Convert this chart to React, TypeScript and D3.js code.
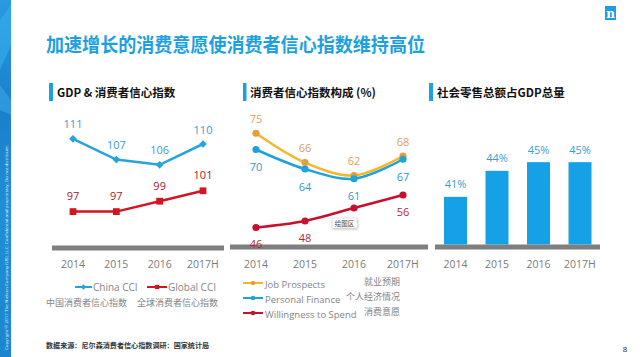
import React from "react";
import * as d3 from "d3";

const years = ["2014", "2015", "2016", "2017H"];
const chinaCCI = [111, 107, 106, 110];
const globalCCI = [97, 97, 99, 101];
const jobProspects = [75, 66, 62, 68];
const personalFinance = [70, 64, 61, 67];
const willingness = [46, 48, 52, 56];
const retailShare = [41, 44, 45, 45];

const title = "加速增长的消费意愿使消费者信心指数维持高位";
const headers = ["GDP & 消费者信心指数", "消费者信心指数构成 (%)", "社会零售总额占GDP总量"];
const legend1 = ["China CCI", "Global CCI"];
const legend1cn = ["中国消费者信心指数", "全球消费者信心指数"];
const legend2 = ["Job Prospects", "Personal Finance", "Willingness to Spend"];
const legend2cn = ["就业预期", "个人经济情况", "消费意愿"];
const source = "数据来源：尼尔森消费者信心指数调研：国家统计局";
const copyright = "Copyright © 2017 The Nielsen Company (US), LLC. Confidential and proprietary. Do not distribute.";

const CJK = "'Noto Sans CJK SC', sans-serif";
const LAT = "'Open Sans', 'Noto Sans', sans-serif";

const C = {
  china: "#27a3de", chinaLbl: "#3b9dc9",
  global: "#d3151f", globalLbl: "#a8182c",
  job: "#f3b82a", jobMk: "#e2a03c", jobLbl: "#d7a15c",
  pf: "#1ea2dd", pfLbl: "#2f9cc5",
  will: "#c8102e", willLbl: "#b1263f",
  bar: "#16a0e5", barLbl: "#3a9dd0",
  axis: "#7f7f7f", tick: "#7a7a7a", legend: "#858585",
};

export default function App() {
  // Panel 1
  const x1 = d3.scalePoint<string>().domain(years).range([73, 203]);
  const y1 = d3.scaleLinear().domain([90, 115]).range([248, 118]);
  const line1 = d3.line<number>().x((_, i) => x1(years[i])!).y((d) => y1(d));
  const diamond = d3.symbol(d3.symbolSquare, 30)();
  const square = d3.symbol(d3.symbolSquare, 46)();

  // Panel 2
  const x2 = d3.scalePoint<string>().domain(years).range([256, 403]);
  const y2 = d3.scaleLinear().domain([40, 80]).range([247, 117]);
  const line2 = d3
    .line<number>()
    .x((_, i) => x2(years[i])!)
    .y((d) => y2(d))
    .curve(d3.curveCatmullRom.alpha(0.5));

  // Panel 3
  const x3 = d3.scaleBand<string>().domain(years).range([435, 600.5]).paddingInner(0.446).paddingOuter(0.217);
  const y3 = d3.scaleLinear().domain([35.5, 50.5]).range([244.5, 114.5]);

  const tickLabels = (sx: (v: string) => number) =>
    years.map((yr) => (
      <text key={yr} x={sx(yr)} y={264} textAnchor="middle" dominantBaseline="central" fontFamily={LAT} fontSize={10.5} fill={C.tick}>
        {yr}
      </text>
    ));

  const series2 = [
    { data: jobProspects, line: C.job, mk: C.jobMk, lbl: C.jobLbl, dy: -15, hide: -1 },
    { data: personalFinance, line: C.pf, mk: C.pf, lbl: C.pfLbl, dy: 17, hide: -1 },
    { data: willingness, line: C.will, mk: C.will, lbl: C.willLbl, dy: 16, hide: 2 },
  ];

  return (
    <svg width={640} height={357} style={{ position: "absolute", left: 0, top: 0, background: "#fff" }}>
      <defs>
        <linearGradient id="strip" x1="0" y1="0" x2="0" y2="1">
          <stop offset="0" stopColor="#2a9be0" />
          <stop offset="0.3" stopColor="#1b7fcc" />
          <stop offset="0.6" stopColor="#1f8fd6" />
          <stop offset="1" stopColor="#1b86cf" />
        </linearGradient>
        <filter id="sh" x="-20%" y="-20%" width="140%" height="160%">
          <feDropShadow dx="0.5" dy="1" stdDeviation="0.8" floodColor="#000" floodOpacity="0.3" />
        </filter>
      </defs>

      {/* left strip */}
      <rect x={0} y={0} width={11} height={357} fill="url(#strip)" />
      <polygon points="0,20 11,5 11,45 0,70" fill="#39b0ee" opacity={0.55} />
      <polygon points="0,85 11,100 11,115 0,110" fill="#4cb8f0" opacity={0.4} />
      <text
        transform="translate(7.5,350) rotate(-90)"
        fontFamily={LAT}
        fontSize={4.3}
        fill="#e8f4fc"
        textLength={205}
        lengthAdjust="spacingAndGlyphs"
      >
        {copyright}
      </text>

      {/* logo */}
      <rect x={605} y={6} width={11} height={14} fill="#1d9ee0" />
      <text x={610.5} y={17.5} textAnchor="middle" fontFamily="'DejaVu Serif', serif" fontSize={12} fontWeight="bold" fill="#fff">
        n
      </text>

      {/* title */}
      <text x={46} y={43} dominantBaseline="central" fontFamily={CJK} fontWeight="bold" fontSize={19} fill="#1ba1e2" textLength={379} lengthAdjust="spacingAndGlyphs">
        {title}
      </text>

      {/* headers */}
      {[
        { bx: 49, tx: 57, w: 4 },
        { bx: 243, tx: 250, w: 3.5 },
        { bx: 429, tx: 437, w: 4 },
      ].map((h, i) => (
        <g key={i}>
          <rect x={h.bx} y={83} width={h.w} height={18} fill="#1ba1e2" />
          <text x={h.tx} y={92} dominantBaseline="central" fontFamily={CJK} fontWeight="bold" fontSize={11.5} fill="#111">
            {headers[i]}
          </text>
        </g>
      ))}

      {/* axis lines */}
      <rect x={52} y={245.5} width={172} height={5} fill={C.axis} />
      <rect x={230} y={244.5} width={198} height={5} fill={C.axis} />
      <rect x={435} y={244.5} width={165} height={5} fill={C.axis} />

      {/* Panel 1 */}
      <path d={line1(chinaCCI)!} fill="none" stroke={C.china} strokeWidth={2.5} />
      <path d={line1(globalCCI)!} fill="none" stroke={C.global} strokeWidth={2.5} />
      {chinaCCI.map((v, i) => (
        <g key={"c" + i}>
          <path d={diamond!} transform={`translate(${x1(years[i])},${y1(v)}) rotate(45)`} fill={C.china} />
          <text x={x1(years[i])} y={y1(v) - 15} textAnchor="middle" dominantBaseline="central" fontFamily={LAT} fontSize={11} fill={C.chinaLbl}>
            {v}
          </text>
        </g>
      ))}
      {globalCCI.map((v, i) => (
        <g key={"g" + i}>
          <path d={square!} transform={`translate(${x1(years[i])},${y1(v)})`} fill={C.global} />
          <text x={x1(years[i])} y={y1(v) - 16} textAnchor="middle" dominantBaseline="central" fontFamily={LAT} fontSize={11} fill={C.globalLbl}>
            {v}
          </text>
        </g>
      ))}
      {tickLabels((v) => x1(v)!)}

      {/* Panel 1 legend */}
      <line x1={75} x2={92} y1={287} y2={287} stroke={C.china} strokeWidth={2} />
      <path d={d3.symbol(d3.symbolSquare, 14)()!} transform="translate(83.5,287) rotate(45)" fill={C.china} />
      <text x={93} y={287} dominantBaseline="central" fontFamily={LAT} fontSize={10} fill={C.legend}>
        {legend1[0]}
      </text>
      <line x1={147} x2={167} y1={287} y2={287} stroke={C.global} strokeWidth={2} />
      <path d={d3.symbol(d3.symbolSquare, 18)()!} transform="translate(157,287)" fill={C.global} />
      <text x={168} y={287} dominantBaseline="central" fontFamily={LAT} fontSize={10} fill={C.legend}>
        {legend1[1]}
      </text>
      <text x={46} y={302} dominantBaseline="central" fontFamily={CJK} fontSize={9} fill={C.legend}>
        {legend1cn[0]}
      </text>
      <text x={137} y={302} dominantBaseline="central" fontFamily={CJK} fontSize={9} fill={C.legend}>
        {legend1cn[1]}
      </text>

      {/* Panel 2 */}
      {series2.map((s, k) => (
        <path key={"l" + k} d={line2(s.data)!} fill="none" stroke={s.line} strokeWidth={2.5} />
      ))}
      {series2.map((s, k) =>
        s.data.map((v, i) => (
          <circle key={`m${k}-${i}`} cx={x2(years[i])} cy={y2(v)} r={3.6} fill={s.mk} />
        ))
      )}
      {series2.map((s, k) =>
        s.data.map((v, i) =>
          i === s.hide ? null : (
            <text key={`t${k}-${i}`} x={x2(years[i])} y={y2(v) + s.dy} textAnchor="middle" dominantBaseline="central" fontFamily={LAT} fontSize={11} fill={s.lbl}>
              {v}
            </text>
          )
        )
      )}
      {tickLabels((v) => x2(v)!)}

      {/* tooltip */}
      <g filter="url(#sh)">
        <rect x={332} y={218} width={25} height={10} fill="#fff" stroke="#c8c8c8" strokeWidth={0.5} />
      </g>
      <text x={344.5} y={223} textAnchor="middle" dominantBaseline="central" fontFamily={CJK} fontSize={6.5} fill="#444">
        绘图区
      </text>

      {/* Panel 2 legend */}
      {[
        { c: C.job, mk: C.jobMk, y: 283 },
        { c: C.pf, mk: C.pf, y: 298 },
        { c: C.will, mk: C.will, y: 313 },
      ].map((l, i) => (
        <g key={"lg" + i}>
          <line x1={243} x2={263} y1={l.y} y2={l.y} stroke={l.c} strokeWidth={2} />
          <circle cx={253} cy={l.y} r={2.3} fill={l.mk} />
          <text x={265} y={l.y + 1} dominantBaseline="central" fontFamily={LAT} fontSize={9.5} fill={C.legend}>
            {legend2[i]}
          </text>
          <text x={400} y={l.y - 2} textAnchor="end" dominantBaseline="central" fontFamily={CJK} fontSize={9} fill={C.legend}>
            {legend2cn[i]}
          </text>
        </g>
      ))}

      {/* Panel 3 */}
      {retailShare.map((v, i) => (
        <g key={"b" + i}>
          <rect x={x3(years[i])} y={y3(v)} width={x3.bandwidth()} height={244.5 - y3(v)} fill={C.bar} />
          <text x={x3(years[i])! + x3.bandwidth() / 2} y={y3(v) - 13} textAnchor="middle" dominantBaseline="central" fontFamily={LAT} fontSize={11} fill={C.barLbl}>
            {v}%
          </text>
        </g>
      ))}
      {tickLabels((v) => x3(v)! + x3.bandwidth() / 2)}

      {/* footer */}
      <text x={46} y={345} dominantBaseline="central" fontFamily={CJK} fontSize={7.1} fontWeight="bold" fill="#333">
        {source}
      </text>
      <text x={625} y={348} textAnchor="middle" dominantBaseline="central" fontFamily={LAT} fontSize={8} fill="#222">
        8
      </text>
    </svg>
  );
}
